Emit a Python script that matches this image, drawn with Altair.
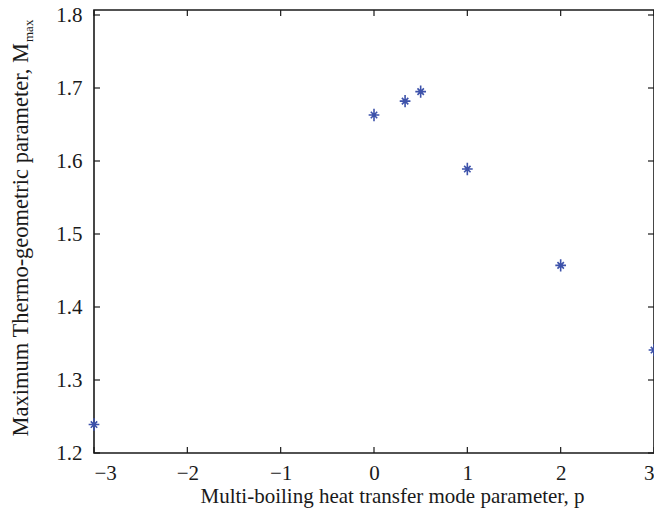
import altair as alt
import pandas as pd

# ---- data ----
p_values = [-3, 0, 0.333, 0.5, 1, 2, 3]
m_max = [1.239, 1.663, 1.682, 1.695, 1.589, 1.457, 1.341]
x_ticks = [-3, -2, -1, 0, 1, 2, 3]
y_ticks = [1.2, 1.3, 1.4, 1.5, 1.6, 1.7, 1.8]
y_title_main = ["Maximum Thermo-geometric parameter, M"]
y_title_sub = ["max"]
x_title = "Multi-boiling heat transfer mode parameter, p"

W, H = 560, 443
FONT = "Liberation Serif"
BLUE = "#3d52aa"
INK = "#1a1a1a"
TICK = 6

df = pd.DataFrame({"p": p_values, "m": m_max})
df_xt = pd.DataFrame({"p": x_ticks})
df_yt = pd.DataFrame({"m": y_ticks})

x_scale = alt.Scale(domain=[-3, 3], nice=False, zero=False)
y_scale = alt.Scale(domain=[1.2, 1.2 + 0.6 * H / 438], nice=False, zero=False)

STAR = "M-1,0L1,0M0,-1.15L0,1.15M-0.6,-0.6L0.6,0.6M-0.6,0.6L0.6,-0.6"

points = alt.Chart(df).mark_point(
    shape=STAR, filled=False, size=115, strokeWidth=1.6, color=BLUE, opacity=1
).encode(
    x=alt.X("p:Q", scale=x_scale,
            axis=alt.Axis(values=x_ticks, format="d", ticks=False, domain=False,
                          grid=False, labelPadding=9, title=x_title,
                          titleX=298, titleY=49, titleAlign="center",
                          titleBaseline="alphabetic")),
    y=alt.Y("m:Q", scale=y_scale,
            axis=alt.Axis(values=y_ticks, format=".1f", ticks=False, domain=False,
                          grid=False, labelPadding=12, title=None)),
)

left_ticks = alt.Chart(df_yt).mark_rule(color=INK, strokeWidth=1.2).encode(
    y=alt.Y("m:Q", scale=y_scale), x=alt.value(0), x2=alt.value(TICK))
right_ticks = alt.Chart(df_yt).mark_rule(color=INK, strokeWidth=1.2).encode(
    y=alt.Y("m:Q", scale=y_scale), x=alt.value(W - TICK), x2=alt.value(W))
bottom_ticks = alt.Chart(df_xt).mark_rule(color=INK, strokeWidth=1.2).encode(
    x=alt.X("p:Q", scale=x_scale), y=alt.value(H), y2=alt.value(H - TICK))
top_ticks = alt.Chart(df_xt).mark_rule(color=INK, strokeWidth=1.2).encode(
    x=alt.X("p:Q", scale=x_scale), y=alt.value(0), y2=alt.value(TICK))

title_main = alt.Chart(pd.DataFrame({"t": y_title_main})).mark_text(
    angle=270, align="right", baseline="alphabetic", font=FONT, fontSize=22.5, color=INK
).encode(text="t:N", x=alt.value(-66), y=alt.value(33))
title_sub = alt.Chart(pd.DataFrame({"t": y_title_sub})).mark_text(
    angle=270, align="left", baseline="alphabetic", font=FONT, fontSize=13, color=INK
).encode(text="t:N", x=alt.value(-61), y=alt.value(32))

chart = alt.layer(
    left_ticks, right_ticks, bottom_ticks, top_ticks, points, title_main, title_sub
).properties(
    width=W, height=H,
    autosize=alt.AutoSizeParams(type="none"),
    padding={"left": 86, "top": 2, "right": 0, "bottom": 55},
    background="white",
).configure_view(
    stroke=INK, strokeWidth=1.6
).configure_axis(
    labelFont=FONT, titleFont=FONT, labelFontSize=21, titleFontSize=21,
    labelColor=INK, titleColor=INK, titleFontWeight="normal"
)

chart.save("out.html", embed_options={"renderer": "svg", "actions": False})
